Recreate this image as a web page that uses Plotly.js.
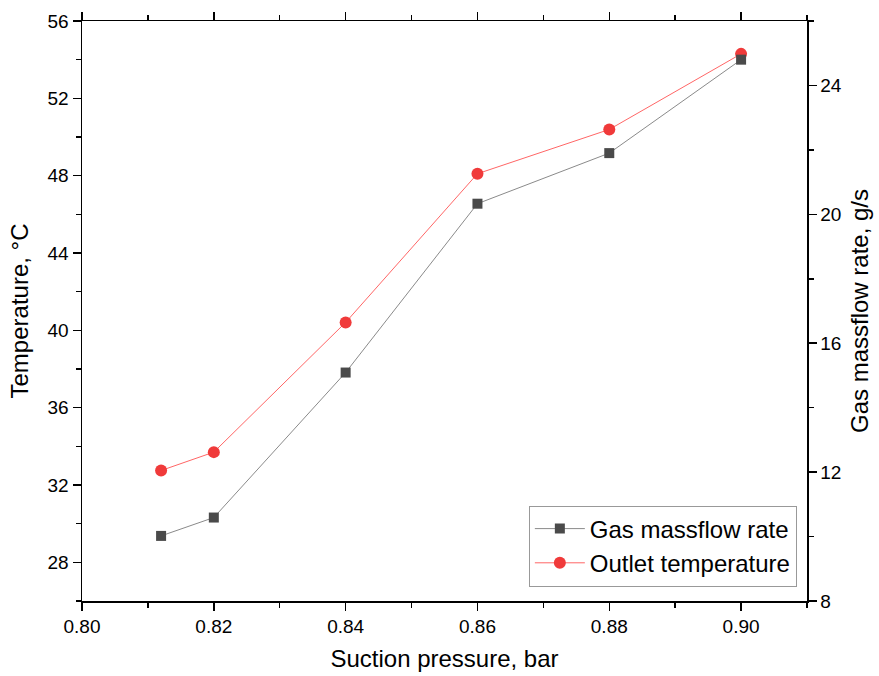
<!DOCTYPE html>
<html>
<head>
<meta charset="utf-8">
<script src="https://cdn.plot.ly/plotly-3.0.1.min.js"></script>
<style>html,body{margin:0;padding:0;background:#fff;}#chart{width:879px;height:676px;}</style>
</head>
<body>
<div id="chart"></div>
<script>
const suctionPressure = [0.812, 0.82, 0.84, 0.86, 0.88, 0.90];
const gasMassflow = [10.02, 10.59, 15.09, 20.33, 21.90, 24.80];
const outletTemperature = [32.75, 33.70, 40.41, 48.10, 50.39, 54.30];
const xTicks = [0.80, 0.82, 0.84, 0.86, 0.88, 0.90];
const xTickLabels = ["0.80", "0.82", "0.84", "0.86", "0.88", "0.90"];
const leftTicks = [28, 32, 36, 40, 44, 48, 52, 56];
const rightTicks = [8, 12, 16, 20, 24];

const FONT = "Arial, 'Liberation Sans', sans-serif";

const traces = [
  {
    x: suctionPressure, y: gasMassflow, yaxis: 'y2',
    name: 'Gas massflow rate', type: 'scatter', mode: 'lines+markers',
    line: {color: '#8a8a8a', width: 1},
    marker: {symbol: 'square', size: 10, color: '#4a4a4a'}
  },
  {
    x: suctionPressure, y: outletTemperature, yaxis: 'y',
    name: 'Outlet temperature', type: 'scatter', mode: 'lines+markers',
    line: {color: '#f66', width: 1},
    marker: {symbol: 'circle', size: 12, color: '#f03a3a'}
  }
];

const axisCommon = {
  showgrid: false, zeroline: false, showline: true,
  linecolor: '#000', linewidth: 1.5,
  ticks: 'outside', ticklen: 8, tickwidth: 1.5, tickcolor: '#000',
  tickfont: {family: FONT, size: 19, color: '#000'}
};

const layout = {
  width: 879, height: 676,
  margin: {l: 82, r: 72, t: 21, b: 75},
  paper_bgcolor: '#fff', plot_bgcolor: '#fff',
  font: {family: FONT, color: '#000'},
  showlegend: true,
  legend: {
    x: 0.986, y: 0.025, xanchor: 'right', yanchor: 'bottom',
    bgcolor: '#fff', bordercolor: '#999', borderwidth: 1,
    font: {family: FONT, size: 24, color: '#000'},
    tracegroupgap: 0, itemwidth: 50
  },
  xaxis: Object.assign({}, axisCommon, {
    range: [0.80, 0.91], mirror: 'ticks',
    tickmode: 'array', tickvals: xTicks, ticktext: xTickLabels,
    minor: {dtick: 0.01, tick0: 0.80, ticks: 'outside', ticklen: 5, tickwidth: 1.5, tickcolor: '#000', showgrid: false},
    title: {text: 'Suction pressure, bar', font: {family: FONT, size: 24, color: '#000'}, standoff: 14}
  }),
  yaxis: Object.assign({}, axisCommon, {
    range: [26, 56], mirror: false,
    tickmode: 'array', tickvals: leftTicks,
    minor: {dtick: 2, tick0: 26, ticks: 'outside', ticklen: 5, tickwidth: 1.5, tickcolor: '#000', showgrid: false},
    title: {text: 'Temperature, °C', font: {family: FONT, size: 24, color: '#000'}, standoff: 12}
  }),
  yaxis2: Object.assign({}, axisCommon, {
    range: [8, 26], overlaying: 'y', side: 'right',
    tickmode: 'array', tickvals: rightTicks,
    minor: {dtick: 2, tick0: 8, ticks: 'outside', ticklen: 5, tickwidth: 1.5, tickcolor: '#000', showgrid: false},
    title: {text: 'Gas massflow rate, g/s', font: {family: FONT, size: 24, color: '#000'}, standoff: 10}
  })
};

Plotly.newPlot('chart', traces, layout, {displayModeBar: false, staticPlot: true});
</script>
</body>
</html>
